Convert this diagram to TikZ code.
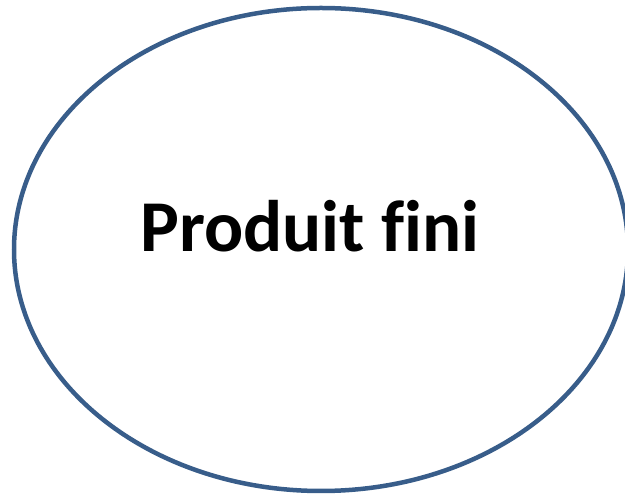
\documentclass[tikz,border=0pt]{standalone}
\usepackage{fontspec}
\setmainfont{Carlito}[Ligatures=NoCommon]
\usetikzlibrary{shapes,positioning}
\definecolor{contour}{RGB}{56,93,138}
\tikzstyle{bulle} = [ellipse, draw=contour, line width=4.5pt,
    minimum width=614pt, minimum height=483pt, inner sep=0pt]
\tikzstyle{titre} = [font=\fontsize{73}{86}\selectfont\bfseries, inner sep=0pt]

\begin{document}
\begin{tikzpicture}[x=1pt, y=1pt]
  \useasboundingbox (0,0) rectangle (625,495);
  \node [bulle] (produit) at (321,245.5) {};
  \node [titre, anchor=base west] (nom) at (140,243.3) {Produit fini};
\end{tikzpicture}
\end{document}
